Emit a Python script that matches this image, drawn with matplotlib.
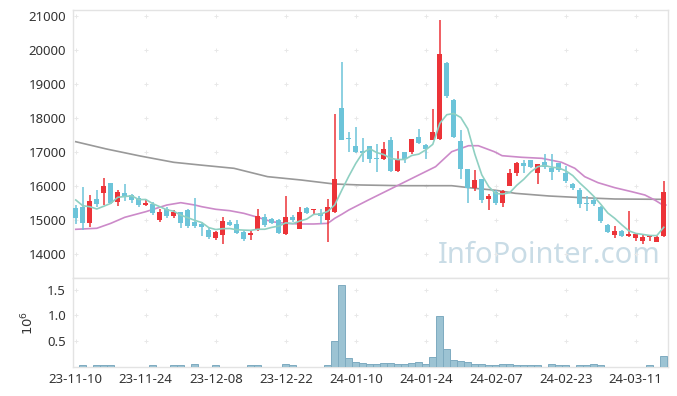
import matplotlib
matplotlib.use("Agg")
import matplotlib.pyplot as plt
import numpy as np
import pandas as pd

# ---- data ----
opens = [15369, 15398, 14929, 15624, 15791, 16084, 15545, 15809, 15741, 15644,
         15447, 15468, 15008, 15340, 15135, 15243, 15301, 14958, 14881, 14715,
         14489, 14568, 14949, 14891, 14665, 14559, 14735, 15106, 15028, 15008,
         14597, 15087, 14755, 15370, 15301, 15224, 15008, 15252, 18302, 17394,
         17178, 17022, 17178, 16836, 16788, 17354, 16454, 16994, 17011, 17442,
         17207, 17354, 17375, 19625, 18528, 17325, 16503, 15937, 16202, 15614,
         15839, 15497, 16014, 16378, 16689, 16768, 16378, 16700, 16542, 16671,
         16395, 16064, 15888, 15516, 15595, 15398, 14862, 14559, 14675, 14538,
         14489, 14401, 14500, 14372, 14538]
closes = [15075, 14929, 15565, 15486, 16005, 15497, 15820, 15673, 15595, 15447,
          15515, 15204, 15233, 15135, 15243, 14929, 14841, 14841, 14812, 14500,
          14647, 14968, 14862, 14637, 14441, 14618, 15125, 14862, 14910, 14637,
          15087, 15008, 15243, 15204, 15331, 15125, 15398, 16210, 17349, 17375,
          17011, 16964, 16788, 16788, 17081, 16454, 16788, 16806, 17375, 17276,
          17081, 17600, 19877, 18648, 17452, 16494, 15937, 16181, 15595, 15712,
          15497, 15858, 16395, 16671, 16592, 16572, 16641, 16553, 16425, 16474,
          16161, 15937, 15468, 15478, 15468, 14988, 14665, 14675, 14538, 14597,
          14597, 14519, 14519, 14519, 15820]
highs = [15447, 15967, 15741, 15888, 16231, 16084, 15888, 16064, 15780, 15720,
         15614, 15536, 15322, 15400, 15300, 15243, 15330, 15644, 14958, 14760,
         14700, 15087, 15000, 15008, 14700, 14720, 15322, 15170, 15060, 15030,
         15712, 15150, 15380, 15390, 15331, 15322, 15614, 18108, 19633, 17589,
         17732, 17423, 17190, 17231, 17287, 17452, 17041, 16994, 17375, 17677,
         17230, 18254, 20874, 19650, 18550, 17648, 16503, 16474, 16202, 15761,
         15880, 15880, 16494, 16700, 16768, 16768, 16660, 16935, 16944, 16690,
         16592, 16080, 15950, 15702, 15640, 15420, 14880, 14832, 14720, 15272,
         14640, 14560, 14560, 14540, 16152]
lows = [14882, 14715, 14812, 15380, 15447, 15480, 15427, 15574, 15515, 15398,
        15418, 15146, 14958, 15080, 15075, 14783, 14764, 14783, 14539, 14451,
        14421, 14304, 14820, 14588, 14400, 14421, 14700, 14800, 14880, 14588,
        14580, 14950, 14740, 15180, 15155, 14891, 14353, 15204, 17340, 16993,
        16960, 16700, 16671, 16407, 16760, 16407, 16420, 16689, 16944, 17250,
        16788, 17340, 17360, 18580, 17404, 16202, 15506, 15858, 15497, 15301,
        15460, 15380, 16000, 16298, 16378, 16540, 16064, 16500, 16181, 16420,
        16103, 15900, 15351, 15281, 15420, 14910, 14620, 14471, 14500, 14500,
        14401, 14304, 14400, 14372, 14520]
volumes_m = [0.008, 0.03, 0.008, 0.03, 0.03, 0.03, 0.008, 0.008, 0.008, 0.008,
             0.008, 0.03, 0.008, 0.008, 0.03, 0.03, 0.008, 0.05, 0.008, 0.008,
             0.03, 0.008, 0.008, 0.008, 0.008, 0.03, 0.03, 0.008, 0.008, 0.008,
             0.05, 0.03, 0.008, 0.008, 0.008, 0.008, 0.03, 0.50, 1.59, 0.17,
             0.09, 0.07, 0.05, 0.05, 0.07, 0.07, 0.05, 0.05, 0.07, 0.09,
             0.06, 0.19, 0.98, 0.34, 0.13, 0.11, 0.09, 0.05, 0.05, 0.03,
             0.03, 0.05, 0.05, 0.03, 0.03, 0.03, 0.03, 0.008, 0.05, 0.03,
             0.03, 0.008, 0.03, 0.03, 0.05, 0.03, 0.008, 0.008, 0.008, 0.008,
             0.008, 0.008, 0.03, 0.008, 0.22]

# moving averages
ma5_start = [15595, 15427, 15398, 15331]          # first 4 values of MA5
ma20_idx = [0, 3, 5, 7, 10, 13, 15, 17, 18, 20, 22, 24, 26, 28, 30, 32, 34, 36, 37,
            38, 39, 41.8, 44.2, 46.6, 49, 51.4, 53.7, 56.1, 57.5, 59.8, 60.9, 63.7,
            66.6, 69.4, 71.3, 72.7, 74.6, 77, 79.4, 81.3, 82.7, 83.7, 84.3]
ma20_val = [14735, 14765, 14910, 15087, 15252, 15447, 15516, 15447, 15398, 15322,
            15281, 15204, 15087, 14958, 14910, 14891, 14891, 14910, 15058,
            15175, 15301, 15595, 15839, 16084, 16328, 16572, 17011, 17187, 17187,
            17011, 16894, 16847, 16817, 16700, 16524, 16279, 16103, 15956, 15839,
            15741, 15595, 15468, 15447]
ma120_idx = [0, 4.4, 9.2, 14, 17.8, 22.6, 27.4, 32.2, 36.9, 40.7, 46.6, 53.7, 57,
             60, 62.8, 67.6, 72.3, 77, 84.2]
ma120_val = [17304, 17090, 16885, 16700, 16620, 16524, 16279, 16181, 16064, 16035,
             16014, 16014, 15937, 15880, 15790, 15712, 15663, 15624, 15614]

tick_pos = [0, 10, 20, 30, 40, 50, 60, 70, 80]
tick_labels = ["23-11-10", "23-11-24", "23-12-08", "23-12-22", "24-01-10",
               "24-01-24", "24-02-07", "24-02-23", "24-03-11"]
price_ticks = [14000, 15000, 16000, 17000, 18000, 19000, 20000, 21000]
vol_ticks = [0.5, 1.0, 1.5]

# ---- styling ----
UP = "#ec3338"
DOWN = "#6cc4d9"
plt.rcParams['font.family'] = ['Noto Sans', 'DejaVu Sans']

fig = plt.figure(figsize=(6.77, 3.96), dpi=100)
ax = fig.add_axes([0.1078, 0.298, 0.8789, 0.6767])
axv = fig.add_axes([0.1078, 0.0732, 0.8789, 0.2248], sharex=ax)

x = np.arange(len(closes))
o = np.array(opens); c = np.array(closes); h = np.array(highs); l = np.array(lows)
colors = [UP if cc >= oo else DOWN for oo, cc in zip(o, c)]

ax.vlines(x, l, h, colors=colors, linewidth=1.1, zorder=3)
body_bottom = np.minimum(o, c)
body_h = np.maximum(np.abs(c - o), 25)
ax.bar(x, body_h, bottom=body_bottom, width=0.68, color=colors, linewidth=0, zorder=4)

# MA lines
ma5 = pd.Series(closes).rolling(5).mean().to_numpy()
ma5[:4] = ma5_start
ax.plot(ma120_idx, ma120_val, color="#999999", linewidth=1.2, zorder=2)
ax.plot(ma20_idx, ma20_val, color="#cc8ac9", linewidth=1.2, zorder=2)
ax.plot(x, ma5, color="#8fd0c2", linewidth=1.2, zorder=5)

ax.set_xlim(-0.4, 84.6)
ax.set_ylim(13307, 21167)
ax.set_yticks(price_ticks)
ax.set_yticklabels([str(p) for p in price_ticks])
ax.tick_params(axis='x', bottom=False, labelbottom=False)
ax.tick_params(axis='y', length=0, labelsize=9.5, labelcolor="#333333", pad=5)

# grid crosses
gx, gy = np.meshgrid(tick_pos, price_ticks)
ax.scatter(gx.ravel(), gy.ravel(), marker='+', s=12, color="#e8e8e8", linewidths=0.7, zorder=1)

ax.text(0.988, 0.03, "InfoPointer.com", transform=ax.transAxes, ha='right', va='bottom',
        fontsize=21, color="#c9dce6", zorder=0)

for a in (ax, axv):
    for s in a.spines.values():
        s.set_color("#e3e3e3")
        s.set_linewidth(1.0)

# volume
axv.bar(x, volumes_m, width=1.0, color="#9cc3d3", edgecolor="#7eabc0", linewidth=0.7, zorder=3)
axv.set_ylim(0, 1.725)
axv.set_yticks(vol_ticks)
axv.set_yticklabels(["0.5", "1.0", "1.5"])
axv.set_xticks(tick_pos)
axv.set_xticklabels(tick_labels)
axv.tick_params(axis='both', length=0, labelsize=9.5, labelcolor="#333333")
axv.tick_params(axis='y', pad=5)
axv.tick_params(axis='x', pad=4)
axv.set_ylabel("$10^6$", fontsize=9.5, color="#333333", labelpad=8)
gx2, gy2 = np.meshgrid(tick_pos, vol_ticks)
axv.scatter(gx2.ravel(), gy2.ravel(), marker='+', s=12, color="#e8e8e8", linewidths=0.7, zorder=1)

fig.savefig("out.png", dpi=100)
